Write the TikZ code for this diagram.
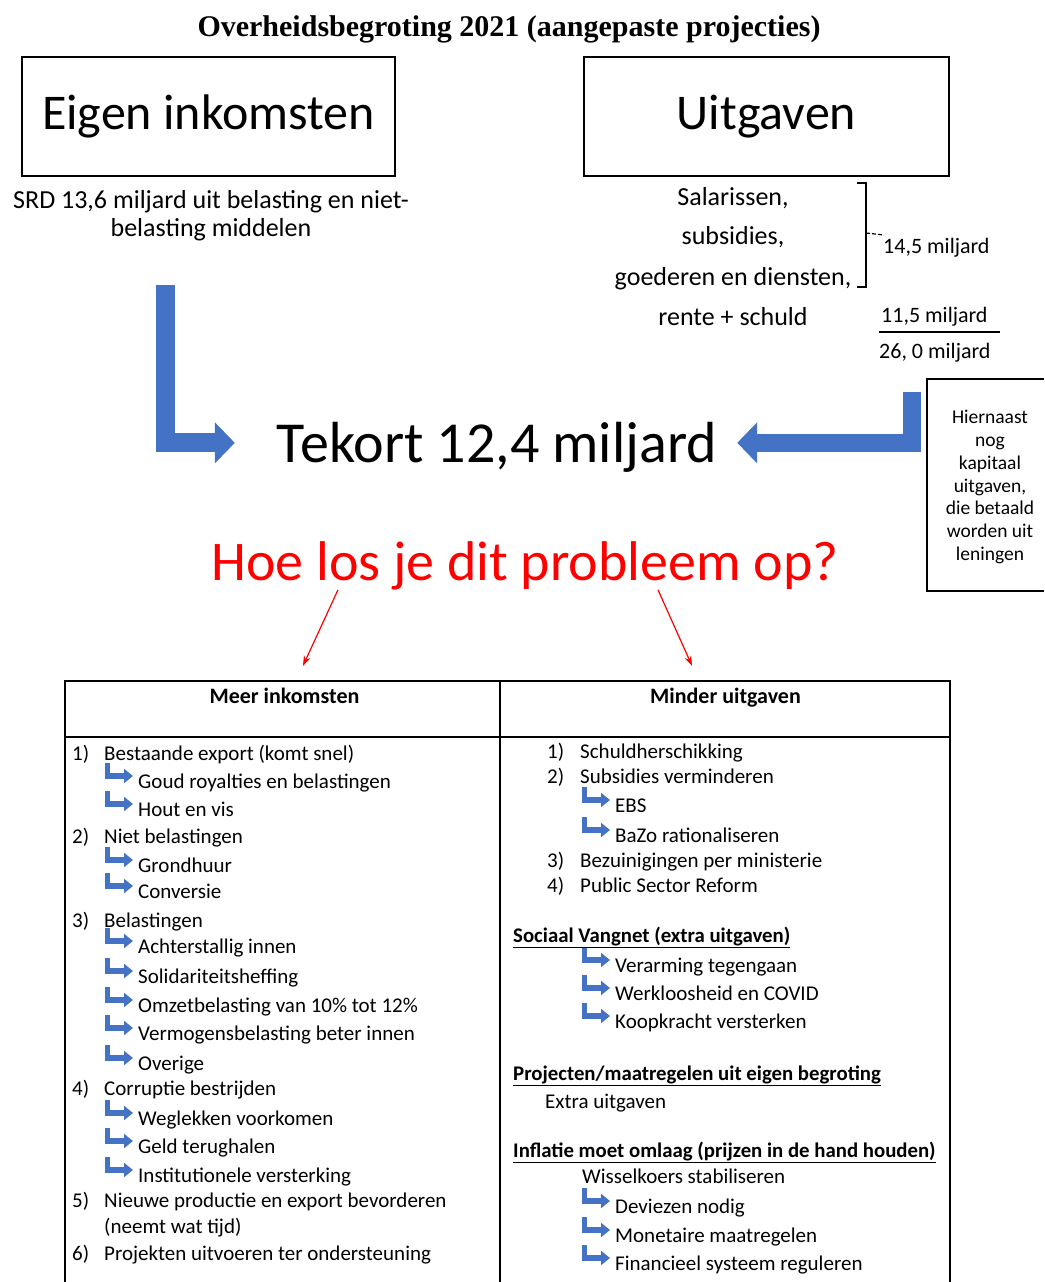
\documentclass[tikz,border=0pt]{standalone}
\usepackage{fontspec}
\setmainfont{Carlito}
\newfontfamily\titlefont{Liberation Serif}
\usepackage{xcolor}
\usetikzlibrary{arrows.meta,positioning}
\definecolor{arrblue}{HTML}{4472C4}
\definecolor{qred}{HTML}{FF0000}
\tikzset{
  bigbox/.style={draw, line width=2.5pt, minimum width=373pt, minimum height=119pt,
                 inner sep=0pt, font=\fontsize{50}{60}\selectfont},
  item/.style={anchor=base west, inner sep=0pt, font=\fontsize{21}{25}\selectfont},
  subhead/.style={item, font=\fontsize{20.8}{25}\selectfont\bfseries},
  cline/.style={anchor=base, inner sep=0pt, font=\fontsize{26}{30}\selectfont},
  sumline/.style={anchor=base west, inner sep=0pt, font=\fontsize{22}{26}\selectfont},
  colhead/.style={anchor=base, inner sep=0pt, font=\fontsize{22}{26}\selectfont\bfseries},
  bigarr/.style={draw=arrblue, line width=19pt, line join=miter,
                 -{Triangle[length=20pt 0 0, width=40pt 0 0]}},
  redarr/.style={draw=qred, line width=1.2pt, -{Stealth[length=10pt, width=7pt]}},
  tabline/.style={line width=1.4pt},
  subarr/.pic={\draw[arrblue, line width=5.5pt, line join=miter,
                -{Triangle[length=9pt 0 0, width=14pt 0 0]}] (0,0) |- (25.5,13);},
}
\begin{document}
\begin{tikzpicture}[x=1pt, y=-1pt]
    \useasboundingbox (0,0) rectangle (1044,1282);
    \fill[white] (0,0) rectangle (1044,1282);
    \node[anchor=base, inner sep=0pt, font=\titlefont\fontsize{30}{36}\selectfont\bfseries] (title) at (509,36)
      {Overheidsbegroting 2021 (aangepaste projecties)};
    % top boxes
    \node[bigbox] (inc) at (208.5,116.5) {Eigen inkomsten};
    \node[bigbox, minimum width=365pt] (exp) at (766.5,116.5) {Uitgaven};
    \node[cline] (srd1) at (211,208) {SRD 13,6 miljard uit belasting en niet-};
    \node[cline] (srd2) at (211,236) {belasting middelen};
    \foreach \yb/\txt in {205/{Salarissen,}, 244/{subsidies,}, 285/{goederen en diensten,}, 325/{rente + schuld}}
      { \node[cline] (cost\yb) at (733,\yb) {\txt}; }
    \draw[line width=1.2pt] (857,183) -- (866,183) -- (866,287) -- (857,287);
    \draw[line width=1.2pt, dash pattern=on 4pt off 2pt] (866,233) -- (884,235);
    \node[sumline] (s145) at (883,253) {14,5 miljard};
    \node[sumline] (s115) at (881,322) {11,5 miljard};
    \draw[line width=1.2pt] (879,332) -- (1000,332);
    \node[sumline] (s260) at (879,358) {26, 0 miljard};
    % capital box
    \draw[line width=1.4pt] (1044,379) -- (927,379) -- (927,591) -- (1044,591);
    \node[align=center, inner sep=0pt, font=\fontsize{19.5}{22.7}\selectfont] (kap) at (990,487)
      {Hiernaast\\nog\\kapitaal\\uitgaven,\\die betaald\\worden uit\\leningen};
    % deficit
    \node[anchor=base, inner sep=0pt, font=\fontsize{58}{69}\selectfont] (tekort) at (497,462) {Tekort 12,4 miljard};
    \coordinate (incfoot) at (165,285);
    \coordinate (capfoot) at (912,392);
    \draw[bigarr, shorten >=42pt] (incfoot) |- ([yshift=4pt]tekort.west);
    \draw[bigarr, line width=18pt, shorten >=20pt] (capfoot) |- ([yshift=4pt]tekort.east);
    \node[anchor=base, inner sep=0pt, text=qred, font=\fontsize{56}{67}\selectfont] (vraag) at (525,580)
      {Hoe los je dit probleem op?};
    \draw[redarr] ([xshift=-187pt]vraag.south) -- ++(-35,76);
    \draw[redarr] ([xshift=133pt]vraag.south) -- ++(34,76);
    % table
    \draw[tabline] (65,1282) -- (65,681) -- (950,681) -- (950,1282);
    \draw[tabline] (500,681) -- (500,1282);
    \draw[tabline] (65,737) -- (950,737);
    \node[colhead] (meer) at (284.5,703) {Meer inkomsten};
    \node[colhead] (minder) at (725.5,703) {Minder uitgaven};
    % left column
    \foreach \yb/\nr/\txt in {760/1)/Bestaande export (komt snel), 843/2)/Niet belastingen, 927/3)/Belastingen,
        1095/4)/Corruptie bestrijden, 1207/5)/Nieuwe productie en export bevorderen,
        1260/6)/Projekten uitvoeren ter ondersteuning}
      { \node[item] (lnr\yb) at (72,\yb) {\nr};
        \node[item] (ln\yb) at (104,\yb) {\txt}; }
    \node[item] (ln1233) at (104,1233) {(neemt wat tijd)};
    \foreach \yb/\txt in {788/Goud royalties en belastingen, 816/Hout en vis, 872/Grondhuur, 898/Conversie,
        953/Achterstallig innen, 983/Solidariteitsheffing, 1012/Omzetbelasting van 10\% tot 12\%,
        1040/Vermogensbelasting beter innen, 1070/Overige, 1125/Weglekken voorkomen,
        1153/Geld terughalen, 1182/Institutionele versterking}
      { \pic at (107.5,\yb-25) {subarr};
        \node[item] (ls\yb) at (138,\yb) {\txt}; }
    % right column
    \foreach \yb/\nr/\txt in {758/1)/Schuldherschikking, 783/2)/Subsidies verminderen,
        867/3)/Bezuinigingen per ministerie, 892/4)/Public Sector Reform}
      { \node[item] (rnr\yb) at (547,\yb) {\nr};
        \node[item] (rn\yb) at (580,\yb) {\txt}; }
    \foreach \yb/\txt in {812/EBS, 842/BaZo rationaliseren, 972/Verarming tegengaan, 1000/Werkloosheid en COVID,
        1028/Koopkracht versterken, 1213/Deviezen nodig, 1242/Monetaire maatregelen, 1270/Financieel systeem reguleren}
      { \pic at (584.5,\yb-25) {subarr};
        \node[item] (rs\yb) at (615,\yb) {\txt}; }
    \node[subhead] (vangnet) at (513,942) {\underline{Sociaal Vangnet (extra uitgaven)}};
    \node[subhead] (eigen) at (513,1080) {\underline{Projecten/maatregelen uit eigen begroting}};
    \node[item] (extra) at (545,1108) {Extra uitgaven};
    \node[subhead] (inflatie) at (513,1157) {\underline{Inflatie moet omlaag (prijzen in de hand houden)}};
    \node[item] (wissel) at (582,1183) {Wisselkoers stabiliseren};
\end{tikzpicture}
\end{document}
